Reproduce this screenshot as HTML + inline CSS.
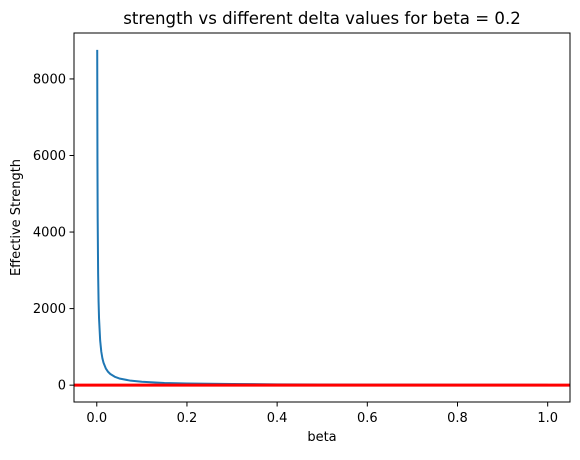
<!DOCTYPE html>
<html><head><meta charset="utf-8"><style>body{margin:0;background:#fff}svg text{font-family:"DejaVu Sans","Liberation Sans",sans-serif}</style></head>
<body>
<svg id="c" width="580" height="455"></svg>
<script>
const xVals=[0.001,0.0015,0.002,0.003,0.004,0.005,0.0075,0.01,0.0125,0.015,0.02,0.025,0.03,0.04,0.05,0.075,0.1,0.15,0.2,0.3,0.4,0.5,0.6,0.7,0.8,0.9,1.0];
const yVals=[8760,5840,4380,2920,2190,1750,1170,876,700,584,438,350,292,219,175,117,88,58,44,29,22,17.5,14.6,12.5,11,9.7,8.8];
const xTicks=[0,0.2,0.4,0.6,0.8,1.0];
const xTickLabels=["0.0","0.2","0.4","0.6","0.8","1.0"];
const yTicks=[0,2000,4000,6000,8000];
const refLine=[0];
const L=74,R=570,T=33,B=402;
const xmin=-0.0505,xmax=1.0495,ymin=-440,ymax=9200;
const X=v=>L+(v-xmin)/(xmax-xmin)*(R-L);
const Y=v=>B-(v-ymin)/(ymax-ymin)*(B-T);
const s=document.getElementById('c');const NS='http://www.w3.org/2000/svg';
function mk(t,a,txt){const e=document.createElementNS(NS,t);for(const k in a)e.setAttribute(k,a[k]);if(txt!==undefined)e.textContent=txt;s.appendChild(e);return e;}
let d=xVals.map((x,i)=>(i?'L':'M')+X(x).toFixed(2)+','+Y(yVals[i]).toFixed(2)).join('');
let p=mk('path',{d:d,fill:'none',stroke:'#1f77b4','stroke-width':2,'stroke-linejoin':'round'});


refLine.forEach(v=>{let l=mk('line',{x1:L,x2:R,y1:Y(v),y2:Y(v),stroke:'#ff0000','stroke-width':3});

});
let f=mk('rect',{x:L,y:T,width:R-L,height:B-T,fill:'none',stroke:'#000','stroke-width':1});


xTicks.forEach((v,i)=>{mk('line',{x1:X(v),x2:X(v),y1:B,y2:B+4.5,stroke:'#000','stroke-width':1});
let t=mk('text',{x:X(v),y:B+20,'text-anchor':'middle','font-size':13},xTickLabels[i]);

});
yTicks.forEach(v=>{mk('line',{x1:L-4.5,x2:L,y1:Y(v),y2:Y(v),stroke:'#000','stroke-width':1});
let t=mk('text',{x:L-8,y:Y(v)+4.5,'text-anchor':'end','font-size':13},String(v));

});
let xt=mk('text',{x:(L+R)/2,y:B+39,'text-anchor':'middle','font-size':13},'beta');


let yt=mk('text',{x:0,y:0,'text-anchor':'middle','font-size':13,transform:`translate(20,${(T+B)/2}) rotate(-90)`},'Effective Strength');


let tt=mk('text',{x:(L+R)/2,y:T-9,'text-anchor':'middle','font-size':16.6},'strength vs different delta values for beta = 0.2');


</script>
</body></html>
